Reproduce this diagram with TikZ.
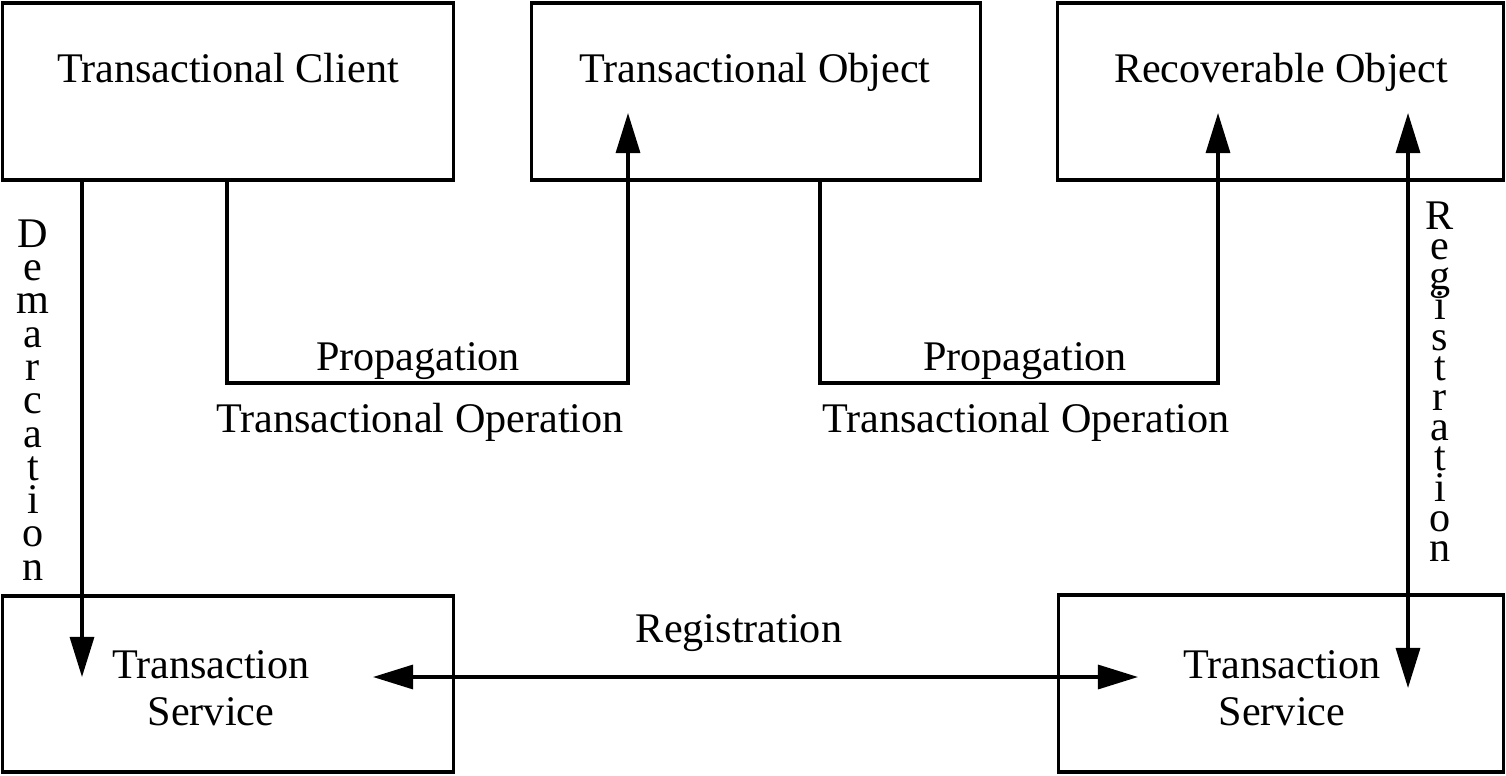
\documentclass[tikz,border=0pt]{standalone}
\usepackage{fontspec}
\setmainfont{Liberation Serif}
\usetikzlibrary{arrows.meta}

% ciasne linie w pionowych napisach
\newcommand\ciasno[1]{\fontsize{12}{#1}\selectfont\lineskiplimit=-100pt\relax}

\begin{document}
\begin{tikzpicture}[x=0.01cm, y=-0.01cm, line width=0.9pt,
  font=\fontsize{12}{13.4}\selectfont,
  box/.style={draw, rectangle, inner sep=0pt},
  lbl/.style={inner sep=0pt, anchor=base},
  vlbl/.style={inner sep=0pt, anchor=north, align=center},
  arr/.style={-{Triangle[length=0.4cm, width=0.24cm]}},
  darr/.style={{Triangle[length=0.4cm, width=0.24cm]}-{Triangle[length=0.4cm, width=0.24cm]}}]

\useasboundingbox (0,0) rectangle (1506,776);

% ---------- Ramki ----------
\node[box, minimum width=4.50cm, minimum height=1.77cm] (client) at (228,91.5) {};
\node[box, minimum width=4.48cm, minimum height=1.77cm] (tobj) at (756,91.5) {};
\node[box, minimum width=4.45cm, minimum height=1.77cm] (robj) at (1280.5,91.5) {};
\node[box, minimum width=4.50cm, minimum height=1.76cm] (tsL) at (228,684) {};
\node[box, minimum width=4.44cm, minimum height=1.77cm] (tsR) at (1281,683.5) {};

% ---------- Napisy w ramkach ----------
\node[lbl] (clientTxt) at (228,83) {Transactional Client};
\node[lbl] (tobjTxt) at (755,83) {Transactional Object};
\node[lbl] (robjTxt) at (1281,83) {Recoverable Object};
\node[inner sep=0pt, align=center] (tsLTxt) at (211,688) {Transaction\\Service};
\node[inner sep=0pt, align=center] (tsRTxt) at (1282,688) {Transaction\\Service};

% ---------- Punkty pomocnicze ----------
\coordinate (demEnd) at (82,677);
\coordinate (propL) at (227,383);
\coordinate (propLEnd) at (628,113);
\coordinate (propR) at (820,383);
\coordinate (propREnd) at (1218,113);
\coordinate (regTop) at (1408,113);
\coordinate (regBot) at (1408,688);
\coordinate (regL) at (373,677);
\coordinate (regR) at (1138,677);

% ---------- Strzalki ----------
\draw[arr] (client.south -| demEnd) -- (demEnd);
\draw[arr] (client.south -| propL) -- (propL) -- (propL -| propLEnd) -- (propLEnd);
\draw[arr] (tobj.south -| propR) -- (propR) -- (propR -| propREnd) -- (propREnd);
\draw[darr] (regTop) -- (regBot);
\draw[darr] (regL) -- (regR);

% ---------- Etykiety strzalek ----------
\node[lbl] (propLTxt) at (418,370) {Propagation};
\node[lbl] (opLTxt) at (420,432) {Transactional Operation};
\node[lbl] (propRTxt) at (1025,370) {Propagation};
\node[lbl] (opRTxt) at (1026,432) {Transactional Operation};
\node[lbl] (regTxt) at (739,642) {Registration};

% Pionowe napisy: litera pod litera
\node[vlbl, font={\ciasno{9.47pt}}]
  (demTxt) at (33,218) {D\\e\\m\\a\\r\\c\\a\\t\\i\\o\\n};
\node[vlbl, font={\ciasno{8.59pt}}]
  (regVTxt) at (1440,200) {R\\e\\g\\i\\s\\t\\r\\a\\t\\i\\o\\n};

\end{tikzpicture}
\end{document}
